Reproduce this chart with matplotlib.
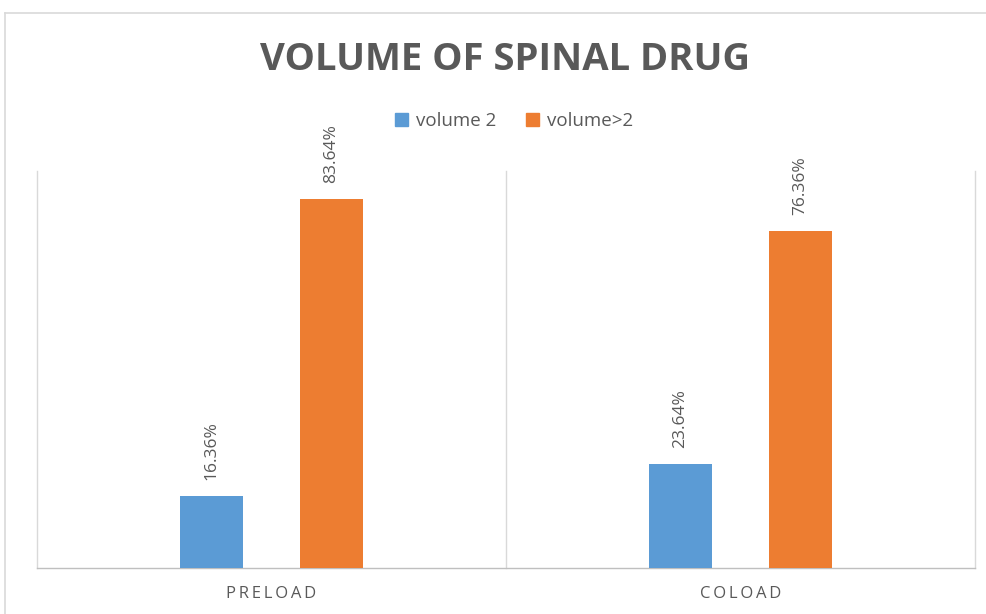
import matplotlib
matplotlib.use("Agg")
import matplotlib.pyplot as plt
from matplotlib.lines import Line2D
from matplotlib.patches import Patch
import numpy as np

categories = ["PRELOAD", "COLOAD"]
series_names = ["volume 2", "volume>2"]
volume_2 = [16.36, 23.64]
volume_gt2 = [83.64, 76.36]
colors = ["#5b9bd5", "#ed7d31"]

plt.rcParams["font.family"] = ["Open Sans", "DejaVu Sans"]
text_gray = "#595959"
grid_gray = "#d9d9d9"

fig = plt.figure(figsize=(9.87, 6.14), dpi=100)
W, H = 987, 614

# chart frame (top and left edges visible)
fig.add_artist(Line2D([5 / W, 5 / W], [0, 1 - 13 / H], color=grid_gray, lw=1.2))
fig.add_artist(Line2D([5 / W, 1], [1 - 13 / H, 1 - 13 / H], color=grid_gray, lw=1.2))

ax = fig.add_axes([37 / W, 1 - 568 / H, (975 - 37) / W, (568 - 171) / H])
ax.set_xlim(-0.5, 1.5)
ax.set_ylim(0, 90)

x = np.arange(len(categories))
width = 0.136
offset = 0.128
for vals, c, sign in [(volume_2, colors[0], -1), (volume_gt2, colors[1], 1)]:
    bars = ax.bar(x + sign * offset, vals, width=width, color=c, zorder=3)
    for b, v in zip(bars, vals):
        ax.annotate(f"{v:.2f}%", (b.get_x() + b.get_width() / 2, v),
                    xytext=(0, 11.5), textcoords="offset points",
                    rotation=90, ha="center", va="bottom",
                    fontsize=12.5, color=text_gray)

# category separators
for xv in [-0.5, 0.5, 1.5]:
    ax.plot([xv, xv], [0, 90], color=grid_gray, lw=1, zorder=1, clip_on=False)

for s in ["top", "left", "right"]:
    ax.spines[s].set_visible(False)
ax.spines["bottom"].set_color("#bfbfbf")
ax.spines["bottom"].set_linewidth(1)
ax.set_yticks([])
ax.set_xticks(x)
ax.set_xticklabels(["\u2009".join(c) for c in categories],
                   fontsize=12, color=text_gray)
ax.tick_params(axis="x", length=0, pad=13)

fig.text(505 / W, 1 - 60 / H, "VOLUME OF SPINAL DRUG", ha="center", va="center",
         fontsize=27.5, fontweight="bold", color=text_gray)

handles = [Patch(color=c) for c in colors]
fig.legend(handles, series_names, loc="center", bbox_to_anchor=(514 / W, 1 - 121 / H),
           ncol=2, frameon=False, fontsize=13.5, handlelength=0.7, handleheight=0.7,
           handletextpad=0.4, columnspacing=1.6, labelcolor=text_gray)

fig.savefig("out.png", dpi=100)
